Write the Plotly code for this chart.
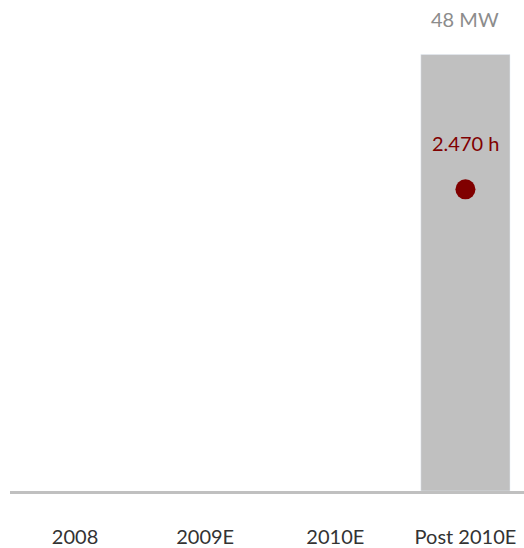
import plotly.graph_objects as go

categories = ["2008", "2009E", "2010E", "Post 2010E"]
capacity_mw = [None, None, None, 48]
hours = [None, None, None, 2470]
capacity_labels = ["", "", "", "48 MW"]
hours_labels = ["", "", "", "2.470 h"]

FONT = "Lato, 'Open Sans', sans-serif"
BAR_GREY = "#c0c0c0"
DARK_RED = "#800000"

fig = go.Figure()
fig.add_trace(go.Bar(
    x=categories, y=capacity_mw, marker_color=BAR_GREY, width=0.685,
    hoverinfo="skip", showlegend=False,
))
fig.add_trace(go.Scatter(
    x=categories, y=hours, yaxis="y2", mode="markers",
    marker=dict(size=20, color=DARK_RED), showlegend=False,
))

for c, v, t in zip(categories, capacity_mw, capacity_labels):
    if v is not None:
        fig.add_annotation(x=c, y=v, text=t, showarrow=False, yref="y",
                           yshift=36, font=dict(family=FONT, size=20, color="#8c8c8c"))
for c, v, t in zip(categories, hours, hours_labels):
    if v is not None:
        fig.add_annotation(x=c, y=v, text=t, showarrow=False, yref="y2",
                           yshift=46, font=dict(family=FONT, size=20, color=DARK_RED))

fig.update_layout(
    width=524, height=548,
    margin=dict(l=10, r=0, t=0, b=52),
    paper_bgcolor="white", plot_bgcolor="white",
    font=dict(family=FONT, size=20, color="#333333"),
    bargap=0.3,
    xaxis=dict(
        type="category", range=[-0.5, 3.45], showline=True, linecolor=BAR_GREY,
        linewidth=3, showgrid=False, zeroline=False, ticks="", ticklabelstandoff=26,
        tickfont=dict(family=FONT, size=20, color="#333333"),
    ),
    yaxis=dict(range=[0, 54], visible=False, showgrid=False, zeroline=False),
    yaxis2=dict(range=[0, 4020], overlaying="y", visible=False, showgrid=False, zeroline=False),
)

fig.write_html(
    "out.html",
    config={"displayModeBar": False},
    post_script="document.body.style.margin='0';document.body.style.overflow='hidden';",
)
